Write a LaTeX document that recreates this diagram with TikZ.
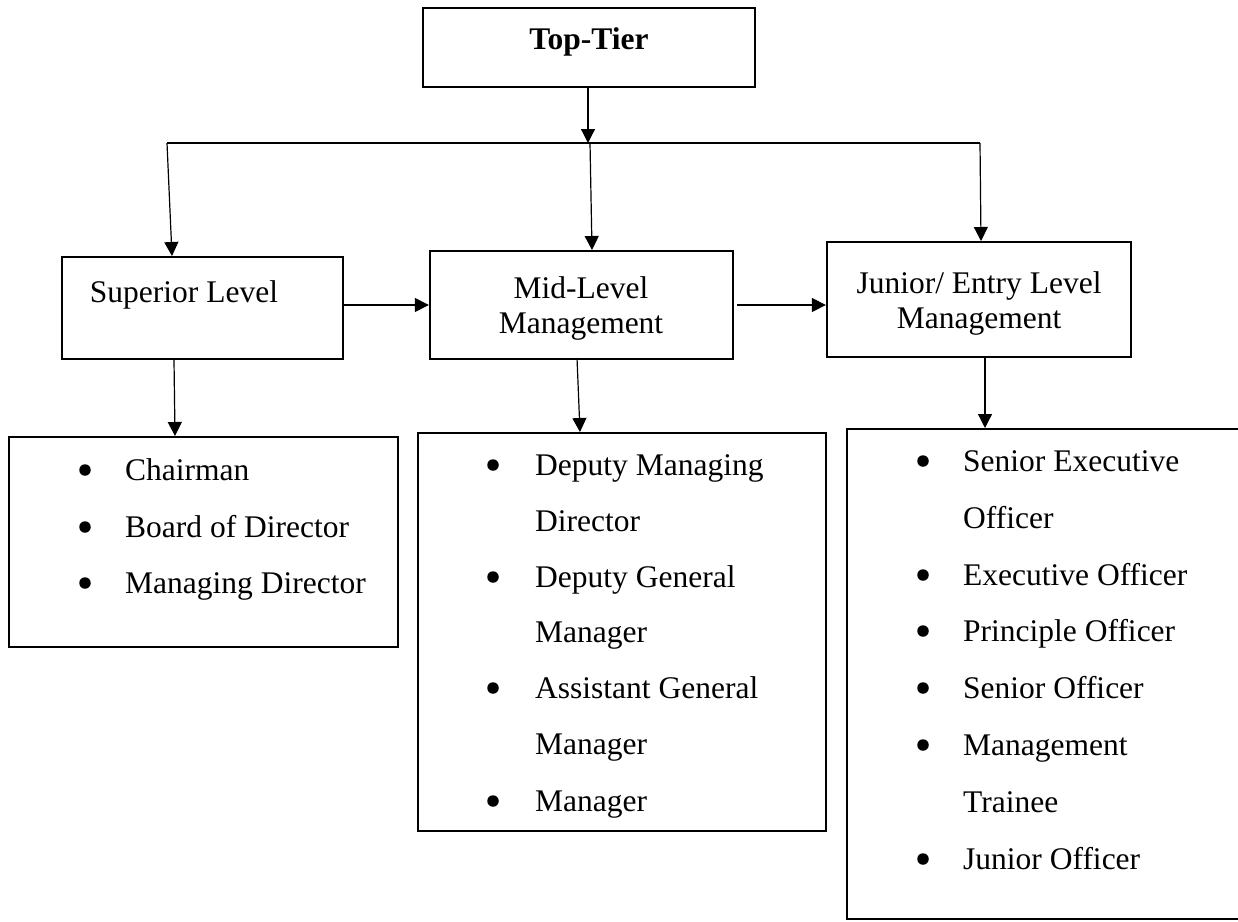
\documentclass[tikz,border=0pt]{standalone}
\usepackage{fontspec}
\setmainfont{Liberation Serif}
\usetikzlibrary{arrows.meta}
\begin{document}
\begin{tikzpicture}[x=1pt,y=-1pt,
  box/.style={draw,line width=2.3pt,inner sep=0pt},
  conn/.style={line width=1.2pt,-{Triangle[width=14pt,length=14pt]}},
  plain/.style={line width=1.2pt},
  txt/.style={inner sep=0pt,anchor=base west,font=\fontsize{31.5}{36}\selectfont},
  ctxt/.style={inner sep=0pt,anchor=base,font=\fontsize{31.5}{36}\selectfont},
  bul/.style={circle,fill=black,inner sep=0pt,minimum size=11.5pt}]
\useasboundingbox (0,0) rectangle (1238,921);
\clip (0,0) rectangle (1238,921);

% boxes
\node[box,minimum width=332pt,minimum height=79pt] (top) at (589,47.5) {};
\node[box,minimum width=281pt,minimum height=102pt] (sup) at (202.5,308) {};
\node[box,minimum width=303pt,minimum height=108pt] (mid) at (581.5,305) {};
\node[box,minimum width=304pt,minimum height=115pt] (jun) at (979,299.5) {};
\node[box,minimum width=389pt,minimum height=210pt] (lst1) at (203.5,542) {};
\node[box,minimum width=408pt,minimum height=398pt] (lst2) at (622,632) {};
\node[box,minimum width=410pt,minimum height=490pt] (lst3) at (1052,674) {};

% box titles
\node[ctxt,font=\fontsize{31.5}{36}\selectfont\bfseries] (toptxt) at (589,49) {Top-Tier};
\node[ctxt] (suptxt) at (184,302) {Superior Level};
\node[ctxt] (midtxt1) at (581,298) {Mid-Level};
\node[ctxt] (midtxt2) at (581,333) {Management};
\node[ctxt] (juntxt1) at (979,293) {Junior/ Entry Level};
\node[ctxt] (juntxt2) at (979,328) {Management};

% list 1
\node[bul] (lb1) at (85,470) {};
\node[txt] (lt1) at (125,480) {Chairman};
\node[bul] (lb2) at (85,527) {};
\node[txt] (lt2) at (125,537) {Board of Director};
\node[bul] (lb3) at (85,583) {};
\node[txt] (lt3) at (125,593) {Managing Director};

% list 2
\node[bul] (mb1) at (493,465) {};
\node[txt] (mt1) at (535,475) {Deputy Managing};
\node[txt] (mt2) at (535,531) {Director};
\node[bul] (mb3) at (493,577) {};
\node[txt] (mt3) at (535,587) {Deputy General};
\node[txt] (mt4) at (535,642) {Manager};
\node[bul] (mb5) at (493,688) {};
\node[txt] (mt5) at (535,698) {Assistant General};
\node[txt] (mt6) at (535,754) {Manager};
\node[bul] (mb7) at (493,801) {};
\node[txt] (mt7) at (535,811) {Manager};

% list 3
\node[bul] (rb1) at (923,461) {};
\node[txt] (rt1) at (963,471) {Senior Executive};
\node[txt] (rt2) at (963,528) {Officer};
\node[bul] (rb3) at (923,575) {};
\node[txt] (rt3) at (963,585) {Executive Officer};
\node[bul] (rb4) at (923,631) {};
\node[txt] (rt4) at (963,641) {Principle Officer};
\node[bul] (rb5) at (923,688) {};
\node[txt] (rt5) at (963,698) {Senior Officer};
\node[bul] (rb6) at (923,745) {};
\node[txt] (rt6) at (963,755) {Management};
\node[txt] (rt7) at (963,812) {Trainee};
\node[bul] (rb8) at (923,859) {};
\node[txt] (rt8) at (963,869) {Junior Officer};

% connector points
\coordinate (hub) at (588,143);
\coordinate (hl) at (167,143);
\coordinate (hm) at (590,143);
\coordinate (hr) at (980,143);
\coordinate (tsup) at (172,256);
\coordinate (tmid) at (592,250);
\coordinate (tjun) at (981,241);
\coordinate (dsup) at (174,360);
\coordinate (dmid) at (577,358);
\coordinate (djun) at (985,357);
\coordinate (tl1) at (175,436);
\coordinate (tl2) at (580,432);
\coordinate (tl3) at (985,428);

% connectors
\draw[conn] (top.south -| hub) -- (hub);
\draw[plain] (hl) -- (hr);
\draw[conn] (hl) -- (tsup);
\draw[conn] (hm) -- (tmid);
\draw[conn] (hr) -- (tjun);
\draw[conn] ([xshift=-1pt]sup.east |- mid.west) -- (mid.west);
\draw[conn] ([xshift=3pt]mid.east) -- (jun.west |- mid.east);
\draw[conn] (dsup) -- (tl1);
\draw[conn] (dmid) -- (tl2);
\draw[conn] (djun) -- (tl3);
\end{tikzpicture}
\end{document}
